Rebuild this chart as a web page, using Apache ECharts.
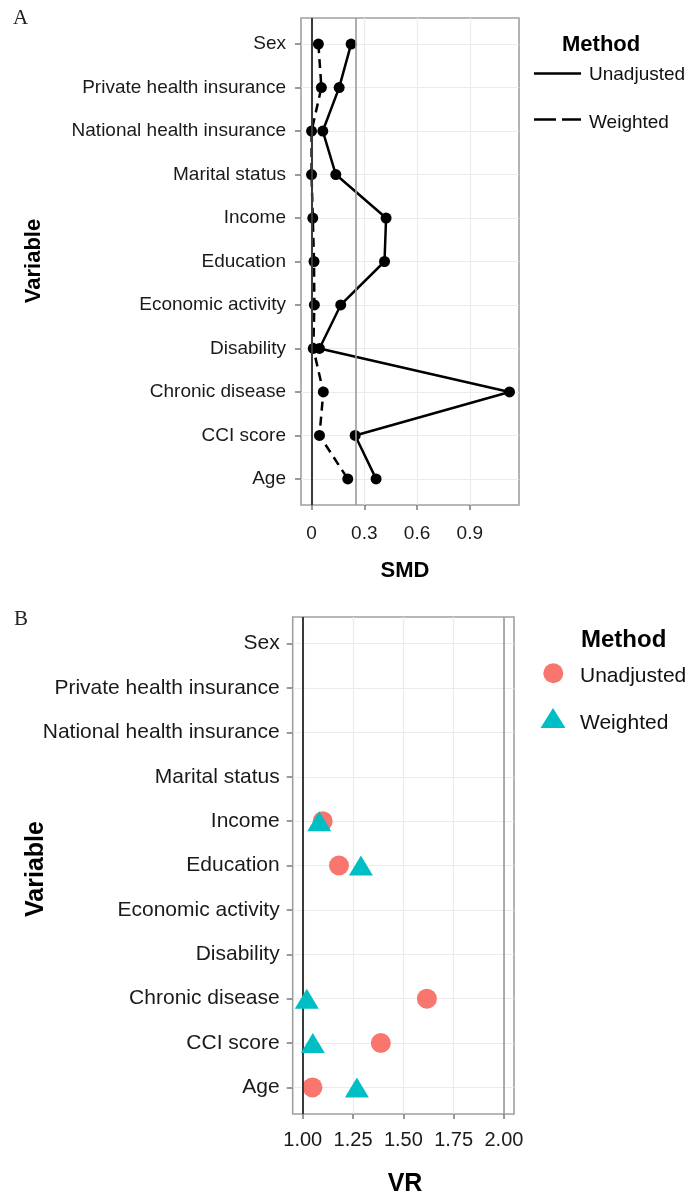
<!DOCTYPE html>
<html><head><meta charset="utf-8">
<script src="https://cdn.jsdelivr.net/npm/echarts@6/dist/echarts.min.js"></script>
<style>html,body{margin:0;padding:0;background:#fff}#c{width:688px;height:1195px}</style>
</head><body><div id="c"></div>
<script>
// ---- data ----
const variables = ['Sex','Private health insurance','National health insurance','Marital status','Income','Education','Economic activity','Disability','Chronic disease','CCI score','Age'];
const smdUnadjusted = [0.225, 0.157, 0.064, 0.138, 0.424, 0.415, 0.166, 0.045, 1.126, 0.248, 0.367];
const smdWeighted   = [0.039, 0.056, 0.000, 0.000, 0.007, 0.014, 0.016, 0.010, 0.067, 0.045, 0.206];
const vrUnadjusted  = [null, null, null, null, 1.099, 1.180, null, null, 1.617, 1.388, 1.048];
const vrWeighted    = [null, null, null, null, 1.082, 1.289, null, null, 1.020, 1.050, 1.269];
const smdTicks = [0, 0.3, 0.6, 0.9];
const vrTicks = [1.00, 1.25, 1.50, 1.75, 2.00];
const smdThreshold = 0.25;
const vrThreshold = 2.0;
const methods = ['Unadjusted', 'Weighted'];

const FONT = "'Liberation Sans', Arial, Helvetica, sans-serif";
const SERIF = "'Liberation Serif', 'Times New Roman', serif";
const idx = variables.map((_, i) => i);
const GRID_LINE = '#ebebeb';
const BORDER = '#a0a0a0';
const TICK = '#7a7a7a';

function pts(arr) { return arr.map((v, i) => v == null ? null : [v, i]).filter(p => p); }

function yAxisCfg(gi, fs, margin) {
  return {
    gridIndex: gi, type: 'value', inverse: true, min: -0.6, max: 10.6,
    axisLine: { show: false, onZero: false },
    axisTick: { show: true, customValues: idx, length: 6, lineStyle: { color: TICK, width: 1.5 } },
    axisLabel: { customValues: idx, formatter: v => variables[Math.round(v)], fontSize: fs, color: '#1a1a1a', fontFamily: FONT, margin: margin },
    splitLine: { show: true, lineStyle: { color: GRID_LINE, width: 1.2 } }
  };
}
function xAxisCfg(gi, min, max, ticks, fmt, fs, margin) {
  return {
    gridIndex: gi, type: 'value', min: min, max: max,
    axisLine: { show: false, onZero: false },
    axisTick: { show: true, customValues: ticks, length: 5, lineStyle: { color: TICK, width: 1.5 } },
    axisLabel: { customValues: ticks, formatter: fmt, fontSize: fs, color: '#1a1a1a', fontFamily: FONT, margin: margin },
    splitLine: { show: true, lineStyle: { color: GRID_LINE, width: 1.2 } }
  };
}
function refLines(zero, thr) {
  return {
    silent: true, symbol: 'none', label: { show: false }, animation: false,
    data: [
      { xAxis: zero, lineStyle: { color: '#3a3a3a', width: 2, type: 'solid' } },
      { xAxis: thr, lineStyle: { color: '#9a9a9a', width: 1.6, type: 'solid' } }
    ]
  };
}

const chart = echarts.init(document.getElementById('c'), null, { renderer: 'canvas' });
chart.setOption({
  animation: false,
  backgroundColor: '#fff',
  grid: [
    { left: 301, top: 18, width: 218, height: 487, show: true, borderColor: BORDER, borderWidth: 1.6, backgroundColor: 'transparent' },
    { left: 292.7, top: 617, width: 221.3, height: 497, show: true, borderColor: BORDER, borderWidth: 1.6, backgroundColor: 'transparent' }
  ],
  xAxis: [
    xAxisCfg(0, -0.06, 1.18, smdTicks, v => (v === 0 ? '0' : String(v)), 19, 19),
    xAxisCfg(1, 0.95, 2.05, vrTicks, v => v.toFixed(2), 20, 16)
  ],
  yAxis: [ yAxisCfg(0, 19, 15), yAxisCfg(1, 21, 13) ],
  series: [
    { type: 'line', name: methods[0], xAxisIndex: 0, yAxisIndex: 0, data: pts(smdUnadjusted),
      symbol: 'circle', symbolSize: 11, itemStyle: { color: '#000' }, lineStyle: { color: '#000', width: 2.5 }, z: 4,
      markLine: refLines(0, smdThreshold) },
    { type: 'line', name: methods[1], xAxisIndex: 0, yAxisIndex: 0, data: pts(smdWeighted),
      symbol: 'circle', symbolSize: 11, itemStyle: { color: '#000' }, lineStyle: { color: '#000', width: 2.5, type: [9, 6] }, z: 4 },
    { type: 'scatter', name: methods[0], xAxisIndex: 1, yAxisIndex: 1, data: pts(vrUnadjusted),
      symbol: 'circle', symbolSize: 20, itemStyle: { color: '#F8766D', opacity: 1 }, z: 4,
      markLine: refLines(1, vrThreshold) },
    { type: 'scatter', name: methods[1], xAxisIndex: 1, yAxisIndex: 1, data: pts(vrWeighted),
      symbol: 'triangle', symbolSize: [24, 20], itemStyle: { color: '#00BFC4', opacity: 1 }, z: 5 }
  ],
  graphic: [
    { type: 'text', left: 13, top: 8, style: { text: 'A', font: '21px ' + SERIF, fill: '#222' } },
    { type: 'text', left: 14, top: 609, style: { text: 'B', font: '21px ' + SERIF, fill: '#222' } },
    { type: 'text', x: 34, y: 261, rotation: Math.PI / 2, style: { text: 'Variable', font: 'bold 22px ' + FONT, fill: '#000', align: 'center', verticalAlign: 'middle' } },
    { type: 'text', x: 36, y: 869, rotation: Math.PI / 2, style: { text: 'Variable', font: 'bold 25px ' + FONT, fill: '#000', align: 'center', verticalAlign: 'middle' } },
    { type: 'text', x: 405, y: 571, style: { text: 'SMD', font: 'bold 22px ' + FONT, fill: '#000', align: 'center', verticalAlign: 'middle' } },
    { type: 'text', x: 405, y: 1184, style: { text: 'VR', font: 'bold 25px ' + FONT, fill: '#000', align: 'center', verticalAlign: 'middle' } },
    // legend A
    { type: 'text', x: 562, y: 45, style: { text: 'Method', font: 'bold 22px ' + FONT, fill: '#000', verticalAlign: 'middle' } },
    { type: 'line', shape: { x1: 534, y1: 73.5, x2: 581, y2: 73.5 }, style: { stroke: '#000', lineWidth: 2.5 } },
    { type: 'text', x: 589, y: 75, style: { text: methods[0], font: '19px ' + FONT, fill: '#111', verticalAlign: 'middle' } },
    { type: 'line', shape: { x1: 534, y1: 119.5, x2: 581, y2: 119.5 }, style: { stroke: '#000', lineWidth: 2.5, lineDash: [22, 6] } },
    { type: 'text', x: 589, y: 123, style: { text: methods[1], font: '19px ' + FONT, fill: '#111', verticalAlign: 'middle' } },
    // legend B
    { type: 'text', x: 581, y: 640, style: { text: 'Method', font: 'bold 24px ' + FONT, fill: '#000', verticalAlign: 'middle' } },
    { type: 'circle', shape: { cx: 553.3, cy: 673.3, r: 10 }, style: { fill: '#F8766D' } },
    { type: 'text', x: 580, y: 676, style: { text: methods[0], font: '21px ' + FONT, fill: '#111', verticalAlign: 'middle' } },
    { type: 'polygon', shape: { points: [[553, 708], [565.5, 728], [540.5, 728]] }, style: { fill: '#00BFC4' } },
    { type: 'text', x: 580, y: 723, style: { text: methods[1], font: '21px ' + FONT, fill: '#111', verticalAlign: 'middle' } }
  ]
});
</script></body></html>
